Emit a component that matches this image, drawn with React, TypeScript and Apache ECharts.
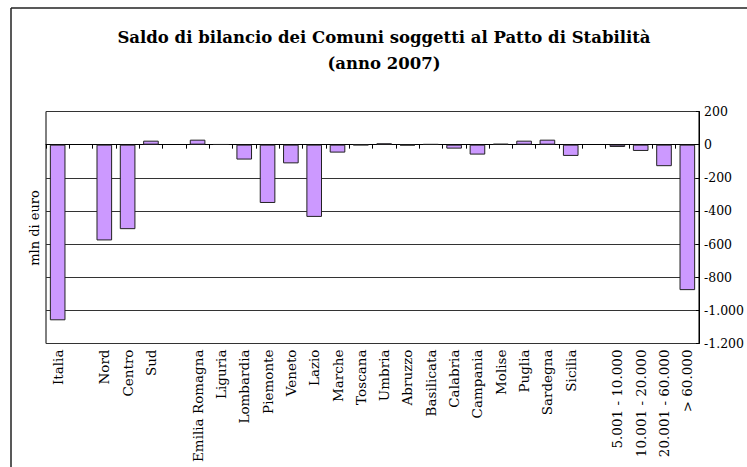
import React, { useEffect, useRef } from "react";
import * as echarts from "echarts";

// Categories along the x axis; empty strings are spacer slots between groups
const categories: string[] = [
  "Italia",
  "",
  "Nord",
  "Centro",
  "Sud",
  "",
  "Emilia Romagna",
  "Liguria",
  "Lombardia",
  "Piemonte",
  "Veneto",
  "Lazio",
  "Marche",
  "Toscana",
  "Umbria",
  "Abruzzo",
  "Basilicata",
  "Calabria",
  "Campania",
  "Molise",
  "Puglia",
  "Sardegna",
  "Sicilia",
  "",
  "5.001 - 10.000",
  "10.001 - 20.000",
  "20.001 - 60.000",
  "> 60.000",
];

// Saldo di bilancio in mln di euro (null for spacer slots)
const saldo: (number | null)[] = [
  -1060,
  null,
  -578,
  -510,
  24,
  null,
  30,
  2,
  -90,
  -352,
  -113,
  -436,
  -48,
  -3,
  8,
  -5,
  3,
  -24,
  -60,
  5,
  24,
  30,
  -68,
  null,
  -14,
  -38,
  -130,
  -878,
];

const yMin = -1200;
const yMax = 200;
const yStep = 200;

const titleLines: string[] = [
  "Saldo di bilancio dei Comuni soggetti al Patto di Stabilità",
  "(anno 2007)",
];

const FONT = "DejaVu Serif";

function formatIt(v: number): string {
  const s = Math.abs(v).toString().replace(/\B(?=(\d{3})+(?!\d))/g, ".");
  return v < 0 ? "-" + s : s;
}

export default function App() {
  const ref = useRef<HTMLDivElement>(null);

  useEffect(() => {
    if (!ref.current) return;
    const chart = echarts.init(ref.current, null, { renderer: "svg" });
    chart.setOption({
      animation: false,
      backgroundColor: "#ffffff",
      grid: {
        left: 46,
        right: 48,
        top: 111.5,
        height: 232,
        show: true,
        borderColor: "#000",
        borderWidth: 1,
        backgroundColor: "transparent",
      },
      xAxis: [
        {
          type: "category",
          data: categories,
          position: "bottom",
          axisLine: { show: false, onZero: false },
          axisTick: { show: false },
          axisLabel: {
            interval: 0,
            rotate: 90,
            margin: 6,
            fontFamily: FONT,
            fontSize: 13.5,
            color: "#000",
          },
        },
        {
          type: "category",
          data: categories,
          position: "top",
          axisLine: { show: true, onZero: true, lineStyle: { color: "#000", width: 1 } },
          axisTick: { show: true, inside: true, length: 4, interval: 0, lineStyle: { color: "#000" } },
          axisLabel: { show: false },
        },
      ],
      yAxis: {
        type: "value",
        position: "right",
        min: yMin,
        max: yMax,
        interval: yStep,
        axisLine: { show: true, lineStyle: { color: "#000" } },
        axisTick: { show: true, inside: true, length: 3, lineStyle: { color: "#000" } },
        splitLine: { show: true, lineStyle: { color: "#333", width: 1 } },
        axisLabel: {
          margin: 5,
          fontFamily: FONT,
          fontSize: 12.5,
          color: "#000",
          formatter: (v: number) => formatIt(v),
        },
      },
      series: [
        {
          type: "bar",
          xAxisIndex: 0,
          data: saldo,
          barWidth: "67%",
          itemStyle: {
            color: "#CC99FF",
            borderColor: "#222",
            borderWidth: 1,
          },
        },
      ],
      graphic: [
        {
          type: "line",
          shape: { x1: 11, y1: 8, x2: 747, y2: 8 },
          style: { stroke: "#222", lineWidth: 1.5 },
        },
        {
          type: "line",
          shape: { x1: 11, y1: 8, x2: 11, y2: 467 },
          style: { stroke: "#222", lineWidth: 1.5 },
        },
        {
          type: "text",
          x: 384,
          y: 37,
          style: {
            text: titleLines[0],
            fontFamily: FONT,
            fontSize: 16.5,
            fontWeight: "bold",
            fill: "#000",
            align: "center",
            verticalAlign: "middle",
          },
        },
        {
          type: "text",
          x: 384,
          y: 63,
          style: {
            text: titleLines[1],
            fontFamily: FONT,
            fontSize: 16.5,
            fontWeight: "bold",
            fill: "#000",
            align: "center",
            verticalAlign: "middle",
          },
        },
        {
          type: "text",
          x: 34,
          y: 228,
          rotation: Math.PI / 2,
          style: {
            text: "mln di euro",
            fontFamily: FONT,
            fontSize: 13,
            fill: "#000",
            align: "center",
            verticalAlign: "middle",
          },
        },
      ],
    });
    return () => chart.dispose();
  }, []);

  return (
    <div
      ref={ref}
      style={{ position: "fixed", left: 0, top: 0, width: 747, height: 467 }}
    />
  );
}
